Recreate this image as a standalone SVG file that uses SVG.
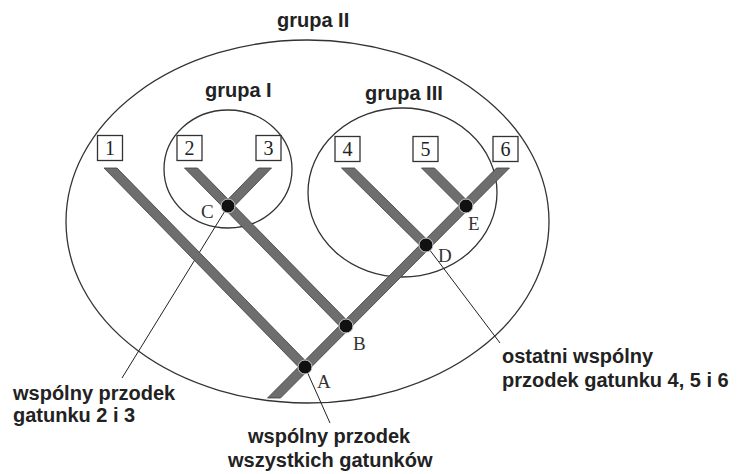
<svg xmlns="http://www.w3.org/2000/svg" width="738" height="474" viewBox="0 0 738 474">
<style>
.grp{fill:none;stroke:#333;stroke-width:1.3}
.box{fill:#fff;stroke:#333;stroke-width:1.3}
.num{font-family:"Liberation Serif",serif;font-size:20px;fill:#222;text-anchor:middle}
.bar{fill:#6e6e6e;stroke:#3c3c3c;stroke-width:0.8}
.dot{fill:#111;stroke:#d0d0d0;stroke-width:1}
.let{font-family:"Liberation Serif",serif;font-size:19px;fill:#333}
.lbl{font-family:"Liberation Sans",Arial,sans-serif;font-size:20px;font-weight:bold;fill:#222}
.lead{stroke:#222;stroke-width:1;fill:none}
</style>
<rect width="738" height="474" fill="#fff"/>
<g id="groups">
<g id="grupa-II"><ellipse class="grp" cx="307.5" cy="221.5" rx="241.5" ry="181.5"/><text class="lbl" x="277" y="27">grupa II</text></g>
<g id="grupa-I"><ellipse class="grp" cx="228" cy="169" rx="64" ry="59"/><text class="lbl" x="205" y="97">grupa I</text></g>
<g id="grupa-III"><ellipse class="grp" cx="402.5" cy="192.5" rx="94.5" ry="84.5"/><text class="lbl" x="365" y="100">grupa III</text></g>
</g>
<g id="connectors">
<line class="lead" x1="228" y1="206" x2="122" y2="378"/>
<line class="lead" x1="426" y1="245" x2="500" y2="343"/>
<line class="lead" x1="305" y1="367" x2="330" y2="423"/>
<polygon class="bar" points="104,168 117,168 311.5,367 298.5,367"/>
<polygon class="bar" points="258.5,168 271.5,168 234.5,206 221.5,206"/>
<polygon class="bar" points="184.5,168 197.5,168 352.5,326 339.5,326"/>
<polygon class="bar" points="341.5,168 354.5,168 432.5,245 419.5,245"/>
<polygon class="bar" points="421.5,168 434.5,168 472.5,206 459.5,206"/>
<polygon class="bar" points="496.5,168 509.5,168 280.5,398 267.5,398"/>
</g>
<g id="node-1"><rect class="box" x="97.5" y="135.5" width="25" height="25"/><text class="num" x="110" y="155">1</text></g>
<g id="node-2"><rect class="box" x="177" y="135.5" width="25" height="25"/><text class="num" x="189.5" y="155">2</text></g>
<g id="node-3"><rect class="box" x="256" y="135.5" width="25" height="25"/><text class="num" x="268.5" y="155">3</text></g>
<g id="node-4"><rect class="box" x="335" y="136.5" width="25" height="25"/><text class="num" x="347.5" y="156">4</text></g>
<g id="node-5"><rect class="box" x="413" y="136.5" width="25" height="25"/><text class="num" x="425.5" y="156">5</text></g>
<g id="node-6"><rect class="box" x="493" y="136.5" width="25" height="25"/><text class="num" x="505.5" y="156">6</text></g>
<g id="node-A"><circle class="dot" cx="305" cy="367" r="7"/><text class="let" x="317" y="388">A</text></g>
<g id="node-B"><circle class="dot" cx="346" cy="326" r="7"/><text class="let" x="353" y="350">B</text></g>
<g id="node-C"><circle class="dot" cx="228" cy="206" r="7"/><text class="let" x="201" y="218">C</text></g>
<g id="node-D"><circle class="dot" cx="426" cy="245" r="7"/><text class="let" x="438" y="262">D</text></g>
<g id="node-E"><circle class="dot" cx="466" cy="206" r="7"/><text class="let" x="468" y="230">E</text></g>
<g id="label-C"><text class="lbl" x="13" y="400">wspólny przodek</text><text class="lbl" x="13" y="422">gatunku 2 i 3</text></g>
<g id="label-D"><text class="lbl" x="502" y="363">ostatni wspólny</text><text class="lbl" x="502" y="387">przodek gatunku 4, 5 i 6</text></g>
<g id="label-A"><text class="lbl" x="248" y="443">wspólny przodek</text><text class="lbl" x="228" y="467">wszystkich gatunków</text></g>
</svg>
